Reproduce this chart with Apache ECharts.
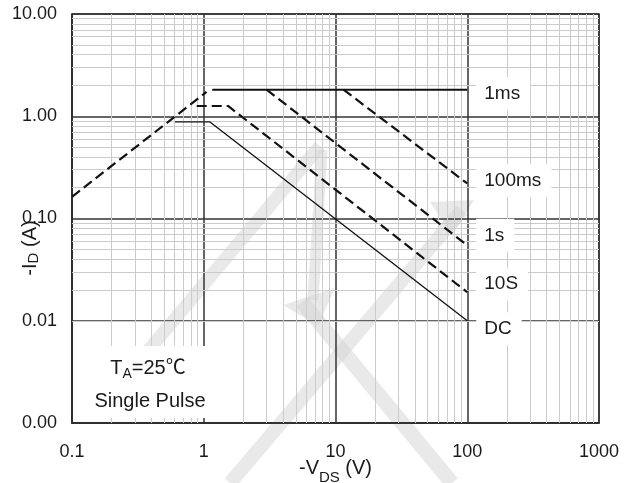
<!DOCTYPE html>
<html><head><meta charset="utf-8">
<script src="https://cdn.jsdelivr.net/npm/echarts@6/dist/echarts.min.js"></script>
<style>html,body{margin:0;padding:0;background:#fff}#c{width:633px;height:483px}</style>
</head><body><div id="c"></div>
<script>
// ---- data ----
const xTicks = [0.1, 1, 10, 100, 1000];
const yTicks = [0.001, 0.01, 0.1, 1, 10];
const minorSteps = [2, 3, 4, 5, 6, 7, 8, 9];

const limitV = [0.1, 1.05];        const limitI = [0.163, 1.73];
const v1ms   = [1.16, 100];        const i1ms   = [1.82, 1.82];
const v100ms = [11.5, 100];        const i100ms = [1.82, 0.22];
const v1s    = [3.0, 100];         const i1s    = [1.82, 0.0547];
const v10s   = [0.884, 1.53, 100]; const i10s   = [1.26, 1.26, 0.019];
const vdc    = [0.605, 1.115, 100];const idc    = [0.88, 0.88, 0.01];

const curveNames = ['1ms', '100ms', '1s', '10S', 'DC'];

// ---- helpers ----
const FONT = '"Liberation Sans", Arial, "Noto Sans CJK SC", sans-serif';
const pairs = (xs, ys) => xs.map((x, i) => [x, ys[i]]);
const minorX = [], minorY = [];
xTicks.slice(0, -1).forEach(d => minorSteps.forEach(k => minorX.push(+(d * k).toPrecision(3))));
yTicks.slice(0, -1).forEach(d => minorSteps.forEach(k => minorY.push(+(d * k).toPrecision(3))));

const DARK = '#2b2b2b';
function curve(name, xs, ys, dashed, width, labelDy) {
  return {
    name, type: 'line', data: pairs(xs, ys), showSymbol: false, symbol: 'none', z: 5,
    animation: false, silent: true,
    lineStyle: { color: '#111', width: width, type: dashed ? [10, 5] : 'solid' },
    endLabel: name ? {
      show: true, formatter: name, fontSize: 19, fontFamily: FONT, color: '#1a1a1a',
      backgroundColor: '#fff', padding: [7, 10, 7, 8], distance: 9, offset: [0, labelDy]
    } : { show: false }
  };
}

const subRich = (size, subSize, drop) => ({
  b: { fontSize: size, fontFamily: FONT, color: '#1a1a1a', lineHeight: size + 3, verticalAlign: 'top' },
  s: { fontSize: subSize, fontFamily: FONT, color: '#1a1a1a', lineHeight: subSize + 1, verticalAlign: 'top', padding: [drop, 0, 0, 0] }
});
const subRichZr = (size, subSize, drop) => ({
  b: { fontSize: size, fontFamily: FONT, fill: '#1a1a1a', lineHeight: size + 3, verticalAlign: 'top' },
  s: { fontSize: subSize, fontFamily: FONT, fill: '#1a1a1a', lineHeight: subSize + 1, verticalAlign: 'top', padding: [drop, 0, 0, 0] }
});

const chart = echarts.init(document.getElementById('c'));
const wm = { fill: 'none', stroke: '#d4d4d4', opacity: 0.5, lineCap: 'butt' };
chart.setOption({
  animation: false,
  backgroundColor: '#fff',
  grid: { left: 72, right: 34, top: 14, bottom: 60, containLabel: false, outerBoundsMode: 'none',
    show: true, borderColor: DARK, borderWidth: 1.5 },
  xAxis: {
    type: 'log', logBase: 10, min: xTicks[0], max: xTicks[xTicks.length - 1],
    axisLine: { show: true, lineStyle: { color: DARK, width: 1.5 } },
    axisTick: { show: false },
    splitLine: { show: true, lineStyle: { color: '#333', width: 1.5 } },
    axisLabel: { fontSize: 18, fontFamily: FONT, color: '#1a1a1a', margin: 20,
      formatter: v => String(+(+v).toPrecision(3)) },
    name: '{b|-V}{s|DS}{b|\u00a0(V)}', nameLocation: 'middle', nameGap: 35, nameMoveOverlap: false,
    nameTextStyle: { rich: subRich(20, 15, 12) }
  },
  yAxis: {
    type: 'log', logBase: 10, min: yTicks[0], max: yTicks[yTicks.length - 1],
    axisLine: { show: true, lineStyle: { color: DARK, width: 1.5 } },
    axisTick: { show: false },
    splitLine: { show: true, lineStyle: { color: '#333', width: 1.5 } },
    axisLabel: { fontSize: 18, fontFamily: FONT, color: '#1a1a1a', margin: 15,
      formatter: v => (+v).toFixed(2) }
  },
  graphic: [
    // watermark (decorative)
    { type: 'polyline', z: 0, silent: true, shape: { points: [[320, 146], [142, 358]] }, style: Object.assign({ lineWidth: 13 }, wm) },
    { type: 'polyline', z: 0, silent: true, shape: { points: [[322, 150], [313, 300]] }, style: Object.assign({ lineWidth: 11 }, wm) },
    { type: 'polygon', z: 0, silent: true, shape: { points: [[283, 305], [335, 288], [318, 326]] }, style: { fill: '#d4d4d4', opacity: 0.5 } },
    { type: 'polyline', z: 0, silent: true, shape: { points: [[302, 302], [452, 483]] }, style: Object.assign({ lineWidth: 15 }, wm) },
    { type: 'polyline', z: 0, silent: true, shape: { points: [[230, 483], [462, 210]] }, style: Object.assign({ lineWidth: 14 }, wm) },
    { type: 'polygon', z: 0, silent: true, shape: { points: [[430, 202], [474, 200], [452, 236]] }, style: { fill: '#d4d4d4', opacity: 0.5 } },
    // y axis title
    { type: 'text', z: 10, silent: true, x: 32, y: 248, rotation: Math.PI / 2,
      style: { text: '{b|-I}{s|D}{b|\u00a0(A)}', rich: subRichZr(20, 15, 6), align: 'center', verticalAlign: 'middle', fill: '#1a1a1a' } },
    // condition box
    { type: 'rect', z: 10, silent: true, shape: { x: 80, y: 346, width: 137, height: 72 }, style: { fill: '#fff' } },
    { type: 'text', z: 11, silent: true, x: 148, y: 370,
      style: { text: '{b|T}{s|A}{b|=25℃}', rich: subRichZr(20, 14, 9), align: 'center', verticalAlign: 'middle', fill: '#1a1a1a' } },
    { type: 'text', z: 11, silent: true, x: 150, y: 401,
      style: { text: 'Single Pulse', fontSize: 20, fontFamily: FONT, align: 'center', verticalAlign: 'middle', fill: '#1a1a1a' } }
  ],
  series: [
    { type: 'line', z: 1, silent: true, data: [[xTicks[0], yTicks[0]]], symbol: 'none', showSymbol: false,
      lineStyle: { opacity: 0 },
      markLine: { silent: true, symbol: ['none', 'none'], label: { show: false }, animation: false,
        lineStyle: { color: '#cbcbcb', width: 1, type: 'solid' }, emphasis: { disabled: true },
        data: minorX.map(v => ({ xAxis: v })).concat(minorY.map(v => ({ yAxis: v }))) } },
    curve('', limitV, limitI, true, 2.2, 0),
    curve(curveNames[0], v1ms, i1ms, false, 2, 4),
    curve(curveNames[1], v100ms, i100ms, true, 2.2, -3),
    curve(curveNames[2], v1s, i1s, true, 2.2, -10),
    curve(curveNames[3], v10s, i10s, true, 2.2, -8),
    curve(curveNames[4], vdc, idc, false, 1.3, 8)
  ]
});
</script>
</body></html>
